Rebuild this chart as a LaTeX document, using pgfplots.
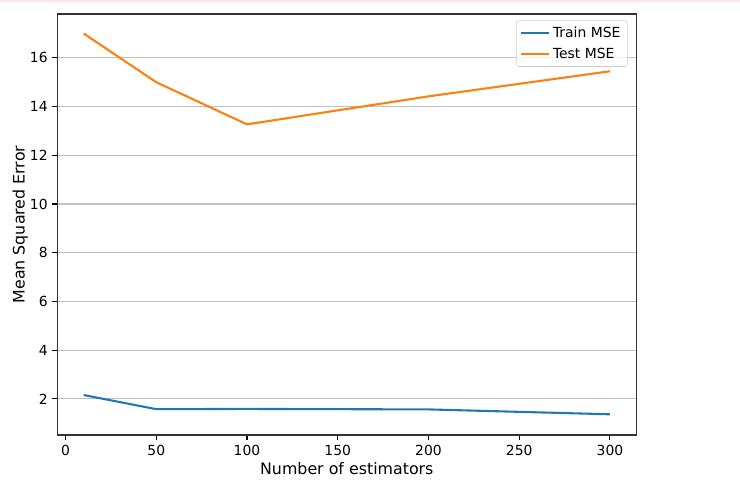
\documentclass[border=0pt]{standalone}
\usepackage{pgfplots}
\pgfplotsset{compat=1.18}
\usepackage{fontspec}
\setmainfont{DejaVu Sans}
\definecolor{tabblue}{HTML}{1F77B4}
\definecolor{taborange}{HTML}{FF7F0E}
\definecolor{pinkband}{RGB}{253,232,232}
\begin{document}
\begin{tikzpicture}
\useasboundingbox (-40.3pt,-36.7pt) rectangle (492.5pt,313.2pt);
\fill[pinkband] (-40.3pt,311.4pt) rectangle (492.5pt,313.2pt);
\begin{axis}[
  at={(1pt,0)}, anchor=south west,
  scale only axis, width=416.8pt, height=303.1pt,
  xmin=-4.5, xmax=314.5, ymin=0.52, ymax=17.8,
  xtick={0,50,100,150,200,250,300},
  ytick={2,4,6,8,10,12,14,16},
  tick align=outside, tick pos=lower,
  major tick length=3.5pt,
  every tick/.style={black, line width=0.8pt},
  axis line style={line width=0.8pt, black!80},
  ymajorgrids, grid style={line width=0.8pt, color={rgb,255:red,192;green,192;blue,192}},
  /pgf/number format/assume math mode=true,
  ticklabel style={font=\fontsize{10}{12}\selectfont},
  xlabel={Number of estimators}, ylabel={Mean Squared Error},
  label style={font=\fontsize{11.4}{14}\selectfont},
  xlabel style={yshift=2pt},
  ylabel style={yshift=-5.5pt},
  legend cell align=left,
  legend style={font=\fontsize{10}{12}\selectfont, draw={rgb,255:red,204;green,204;blue,204}, fill=white, fill opacity=0.8, text opacity=1, draw opacity=1, rounded corners=2pt, inner xsep=3pt, inner ysep=2.5pt, at={(0.985,0.985)}, anchor=north east, row sep=2pt},
  legend image code/.code={\draw[#1] (0pt,0pt) -- (20pt,0pt);},
]
\addplot[tabblue, line width=1.5pt] coordinates {(10,2.16) (50,1.58) (100,1.59) (200,1.57) (300,1.37)};
\addlegendentry{Train MSE}
\addplot[taborange, line width=1.5pt] coordinates {(10,17.0) (50,15.0) (100,13.27) (200,14.42) (300,15.45)};
\addlegendentry{Test MSE}
\end{axis}
\end{tikzpicture}
\end{document}
